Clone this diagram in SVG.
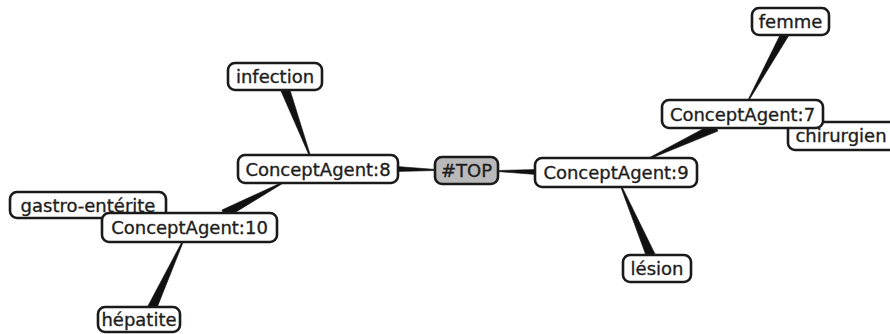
<svg xmlns="http://www.w3.org/2000/svg" width="890" height="334" viewBox="0 0 890 334">
<style>
.box{fill:#fff;stroke:#1a1a1a;stroke-width:2.6}
.top{fill:#b9b9b9;stroke:#1a1a1a;stroke-width:2.6}
.lbl{font-family:"DejaVu Sans",Verdana,sans-serif;font-size:18px;fill:#1e1e1e;stroke:#1e1e1e;stroke-width:0.35;text-anchor:middle}
.edge{fill:#111;stroke:#111;stroke-width:0.6;stroke-linejoin:round}
</style>
<rect width="890" height="334" fill="#fff"/>
<g id="connectors">
<polygon class="edge" points="748.4,101.2 788.5,35.9 781.5,32.1 747.6,100.8"/>
<polygon class="edge" points="648.2,159.5 717.9,131.1 714.1,122.9 647.8,158.5"/>
<polygon class="edge" points="497,170.5 536,169.5 536,174.5 497,171.5"/>
<polygon class="edge" points="620.5,186.2 646.9,257.8 655.1,254.2 621.5,185.8"/>
<polygon class="edge" points="397,166.5 436,169.5 436,170.5 397,171.5"/>
<polygon class="edge" points="310.5,155.8 289.2,87.4 280.8,90.6 309.5,156.2"/>
<polygon class="edge" points="283.8,181.6 221.9,210.0 226.1,218.0 284.2,182.4"/>
<polygon class="edge" points="182.5,240.8 147.9,306.1 156.1,309.9 183.5,241.2"/>
</g>
<g id="femme"><rect class="box" x="752" y="8" width="77" height="27" rx="7"/><text class="lbl" x="790.5" y="28">femme</text></g>
<g id="chirurgien"><rect class="box" x="788" y="122" width="112" height="28" rx="7"/><text class="lbl" x="841" y="142">chirurgien</text></g>
<g id="ConceptAgent7"><rect class="box" x="662" y="100" width="161" height="28" rx="7"/><text class="lbl" x="742.5" y="120.5">ConceptAgent:7</text></g>
<g id="ConceptAgent9"><rect class="box" x="535" y="158" width="162" height="29" rx="7"/><text class="lbl" x="616" y="179">ConceptAgent:9</text></g>
<g id="TOP"><rect class="top" x="435" y="157" width="63" height="27" rx="7"/><text class="lbl" x="466.5" y="177">#TOP</text></g>
<g id="lesion"><rect class="box" x="623" y="255" width="68" height="27" rx="7"/><text class="lbl" x="657" y="275">lésion</text></g>
<g id="ConceptAgent8"><rect class="box" x="238" y="155" width="160" height="28" rx="7"/><text class="lbl" x="318" y="175.5">ConceptAgent:8</text></g>
<g id="infection"><rect class="box" x="228" y="63" width="94" height="27" rx="7"/><text class="lbl" x="275" y="83">infection</text></g>
<g id="gastro"><rect class="box" x="10" y="192" width="156" height="26" rx="7"/><text class="lbl" x="88" y="211.5">gastro-entérite</text></g>
<g id="ConceptAgent10"><rect class="box" x="102" y="213" width="175" height="29" rx="7"/><text class="lbl" x="189.5" y="234">ConceptAgent:10</text></g>
<g id="hepatite"><rect class="box" x="98" y="307" width="82" height="25" rx="7"/><text class="lbl" x="139" y="326">hépatite</text></g>
</svg>
